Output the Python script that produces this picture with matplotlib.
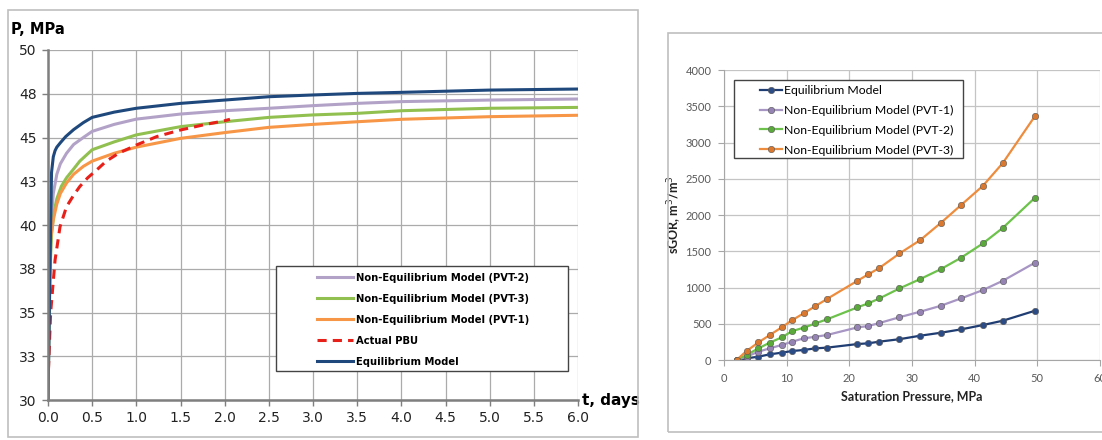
import math
import matplotlib
matplotlib.use('Agg')
import matplotlib.pyplot as plt
from matplotlib.patches import Rectangle
from matplotlib.ticker import FuncFormatter, MultipleLocator

# Pressure build-up, P (MPa) vs time (days)
t_eq = [0, 0.03, 0.04, 0.06, 0.08, 0.1, 0.14, 0.2, 0.29, 0.4, 0.5, 0.75, 1.0, 1.5, 2.0, 2.5, 3.0, 3.5, 4.0, 5.0, 6.0]
p_eq = [30, 40.0, 43.0, 43.9, 44.25, 44.45, 44.7, 45.05, 45.45, 45.85, 46.15, 46.45, 46.67, 46.95, 47.14, 47.33, 47.43, 47.52, 47.58, 47.71, 47.77]

t_pvt2 = [0, 0.02, 0.04, 0.06, 0.1, 0.14, 0.21, 0.29, 0.4, 0.5, 0.75, 1.0, 1.5, 2.0, 2.5, 3.0, 3.5, 4.0, 5.0, 6.0]
p_pvt2 = [30, 37.0, 40.5, 41.8, 42.9, 43.5, 44.1, 44.6, 45.0, 45.35, 45.75, 46.05, 46.34, 46.53, 46.67, 46.82, 46.95, 47.05, 47.14, 47.2]

t_pvt3 = [0, 0.02, 0.04, 0.07, 0.1, 0.15, 0.21, 0.29, 0.36, 0.5, 0.75, 1.0, 1.5, 2.0, 2.5, 3.0, 3.5, 4.0, 5.0, 6.0]
p_pvt3 = [30, 37.0, 39.5, 40.8, 41.5, 42.2, 42.7, 43.2, 43.65, 44.3, 44.75, 45.15, 45.62, 45.9, 46.15, 46.29, 46.38, 46.53, 46.67, 46.72]

t_pvt1 = [0, 0.01, 0.03, 0.06, 0.1, 0.14, 0.21, 0.29, 0.4, 0.5, 0.75, 1.0, 1.5, 2.0, 2.5, 3.0, 3.5, 4.0, 5.0, 6.0]
p_pvt1 = [30, 37.5, 39.2, 40.3, 41.2, 41.8, 42.4, 42.9, 43.35, 43.65, 44.1, 44.45, 44.95, 45.28, 45.58, 45.75, 45.9, 46.04, 46.19, 46.27]

t_pbu = [0.005, 0.03, 0.08, 0.136, 0.21, 0.29, 0.36, 0.45, 0.55, 0.66, 0.8, 1.0, 1.23, 1.5, 1.75, 2.0, 2.06]
p_pbu = [31.7, 35.0, 38.0, 39.9, 41.05, 41.7, 42.2, 42.7, 43.14, 43.65, 44.1, 44.57, 45.05, 45.43, 45.71, 45.96, 46.04]

# sGOR (m3/m3) vs saturation pressure (MPa)
psat = [2.0, 3.6, 5.5, 7.3, 9.2, 10.9, 12.7, 14.6, 16.4, 21.3, 23.0, 24.8, 28.0, 31.3, 34.6, 37.8, 41.3, 44.5, 49.6]
gor_eq = [0, 23, 46, 78, 101, 124, 138, 161, 170, 220, 230, 253, 287, 335, 376, 422, 482, 542, 679]
gor_pvt1 = [0, 46, 115, 161, 207, 253, 298, 321, 344, 450, 468, 510, 590, 666, 748, 849, 964, 1093, 1341]
gor_pvt2 = [0, 69, 161, 239, 312, 399, 445, 505, 560, 726, 781, 849, 987, 1116, 1253, 1409, 1607, 1823, 2236]
gor_pvt3 = [0, 124, 243, 344, 450, 551, 643, 744, 840, 1093, 1180, 1270, 1469, 1653, 1891, 2135, 2401, 2718, 3361]

W, H = 1102, 440
fig = plt.figure(figsize=(W / 100, H / 100), dpi=100)


def box(x0, y0, x1, y1):
    # pixel box (top-left origin) -> figure fraction rect
    return [x0 / W, 1 - y1 / H, (x1 - x0) / W, (y1 - y0) / H]


def framed_legend(a, rect, anchor, **kw):
    # Excel-style legend: loose frame drawn separately from the entries
    leg = a.legend(loc='upper left', bbox_to_anchor=anchor, borderaxespad=0, borderpad=0,
                   frameon=False, **kw)
    x0, y0, x1, y1 = rect
    a.add_patch(Rectangle((x0, y0), x1 - x0, y1 - y0, transform=a.transAxes, facecolor='white',
                          edgecolor='#444444', lw=1.0, zorder=4, clip_on=False))
    leg.set_zorder(5)
    return leg


# chart frames
for x0, y0, x1, y1 in [(8, 10, 638, 437), (668, 33, 1110, 432)]:
    r = box(x0, y0, x1, y1)
    fig.patches.append(Rectangle((r[0], r[1]), r[2], r[3], transform=fig.transFigure,
                                 fill=False, edgecolor='#bfbfbf', lw=1.2))

# ---- left: pressure build-up ----
ax = fig.add_axes(box(48, 50, 578, 400))
ax.plot(t_pvt2, p_pvt2, color='#b3a2c7', lw=2.2, label='Non-Equilibrium Model (PVT-2)')
ax.plot(t_pvt3, p_pvt3, color='#92c050', lw=2.2, label='Non-Equilibrium Model (PVT-3)')
ax.plot(t_pvt1, p_pvt1, color='#f79646', lw=2.2, label='Non-Equilibrium Model (PVT-1)')
ax.plot(t_pbu, p_pbu, color='#e8201a', lw=2.2, ls=(0, (3, 2)), label='Actual PBU')
ax.plot(t_eq, p_eq, color='#1f497d', lw=2.2, label='Equilibrium Model')

ax.set_xlim(0, 6)
ax.set_ylim(30, 50)
ax.xaxis.set_major_locator(MultipleLocator(0.5))
ax.yaxis.set_major_locator(MultipleLocator(2.5))
ax.xaxis.set_major_formatter(FuncFormatter(lambda v, _: f'{v:.1f}'))
ax.yaxis.set_major_formatter(FuncFormatter(lambda v, _: f'{math.floor(v + 0.5):d}'))
ax.grid(True, color='#ababab', lw=0.9)
ax.set_axisbelow(True)
for s in ['top', 'right']:
    ax.spines[s].set_visible(False)
for s in ['left', 'bottom']:
    ax.spines[s].set_color('#7f7f7f')
    ax.spines[s].set_linewidth(1.8)
ax.tick_params(direction='out', length=4, width=1, color='#7f7f7f',
               labelsize=10, labelcolor='#222222', pad=4)

ax.text(-0.07, 1.06, 'P, MPa', transform=ax.transAxes, fontsize=10.5, fontweight='bold',
        ha='left', va='center')
ax.text(1.007, 0.0, 't, days', transform=ax.transAxes, fontsize=11, fontweight='bold',
        ha='left', va='center')

framed_legend(ax, (0.430, 0.083, 0.981, 0.383), (0.507, 0.364),
              prop={'weight': 'bold', 'size': 7.2}, handlelength=3.6, handletextpad=0.3,
              labelspacing=1.1)

# ---- right: sGOR vs saturation pressure ----
ax2 = fig.add_axes(box(724, 70, 1100, 360))
mk = dict(marker='o', ms=4.6, lw=1.6, mec='#555555', mew=0.4)
ax2.plot(psat, gor_eq, color='#1f3d73', mfc='#2b4c86', label='Equilibrium Model', **mk)
ax2.plot(psat, gor_pvt1, color='#a795c4', mfc='#9583b3', label='Non-Equilibrium Model (PVT-1)', **mk)
ax2.plot(psat, gor_pvt2, color='#6cc24a', mfc='#5aa93a', label='Non-Equilibrium Model (PVT-2)', **mk)
ax2.plot(psat, gor_pvt3, color='#ee8c3e', mfc='#d9782e', label='Non-Equilibrium Model (PVT-3)', **mk)

ax2.set_xlim(0, 60)
ax2.set_ylim(0, 4000)
ax2.xaxis.set_major_locator(MultipleLocator(10))
ax2.yaxis.set_major_locator(MultipleLocator(500))
ax2.grid(True, color='#c4c4c4', lw=0.9)
ax2.set_axisbelow(True)
for s in ['top', 'right']:
    ax2.spines[s].set_visible(False)
for s in ['left', 'bottom']:
    ax2.spines[s].set_color('#a6a6a6')
ax2.tick_params(direction='out', length=4, color='#a6a6a6', labelsize=8,
                labelcolor='#595959', pad=5)
for lab in ax2.get_xticklabels() + ax2.get_yticklabels():
    lab.set_family('Lato')

ax2.set_xlabel('Saturation Pressure, MPa', fontsize=9, fontweight='bold', family='Lato',
               labelpad=5, color='#222222')
ax2.set_ylabel('sGOR, m$^3$/m$^3$', fontsize=9, fontweight='bold', family='Lato',
               color='#222222')
ax2.yaxis.set_label_coords(-0.106, 0.5)

framed_legend(ax2, (0.027, 0.697, 0.636, 0.9655), (0.096, 0.948),
              prop={'family': 'Lato', 'size': 8.8}, handlelength=1.8, handletextpad=0.15,
              labelspacing=0.72)

fig.savefig('out.png', dpi=100)
